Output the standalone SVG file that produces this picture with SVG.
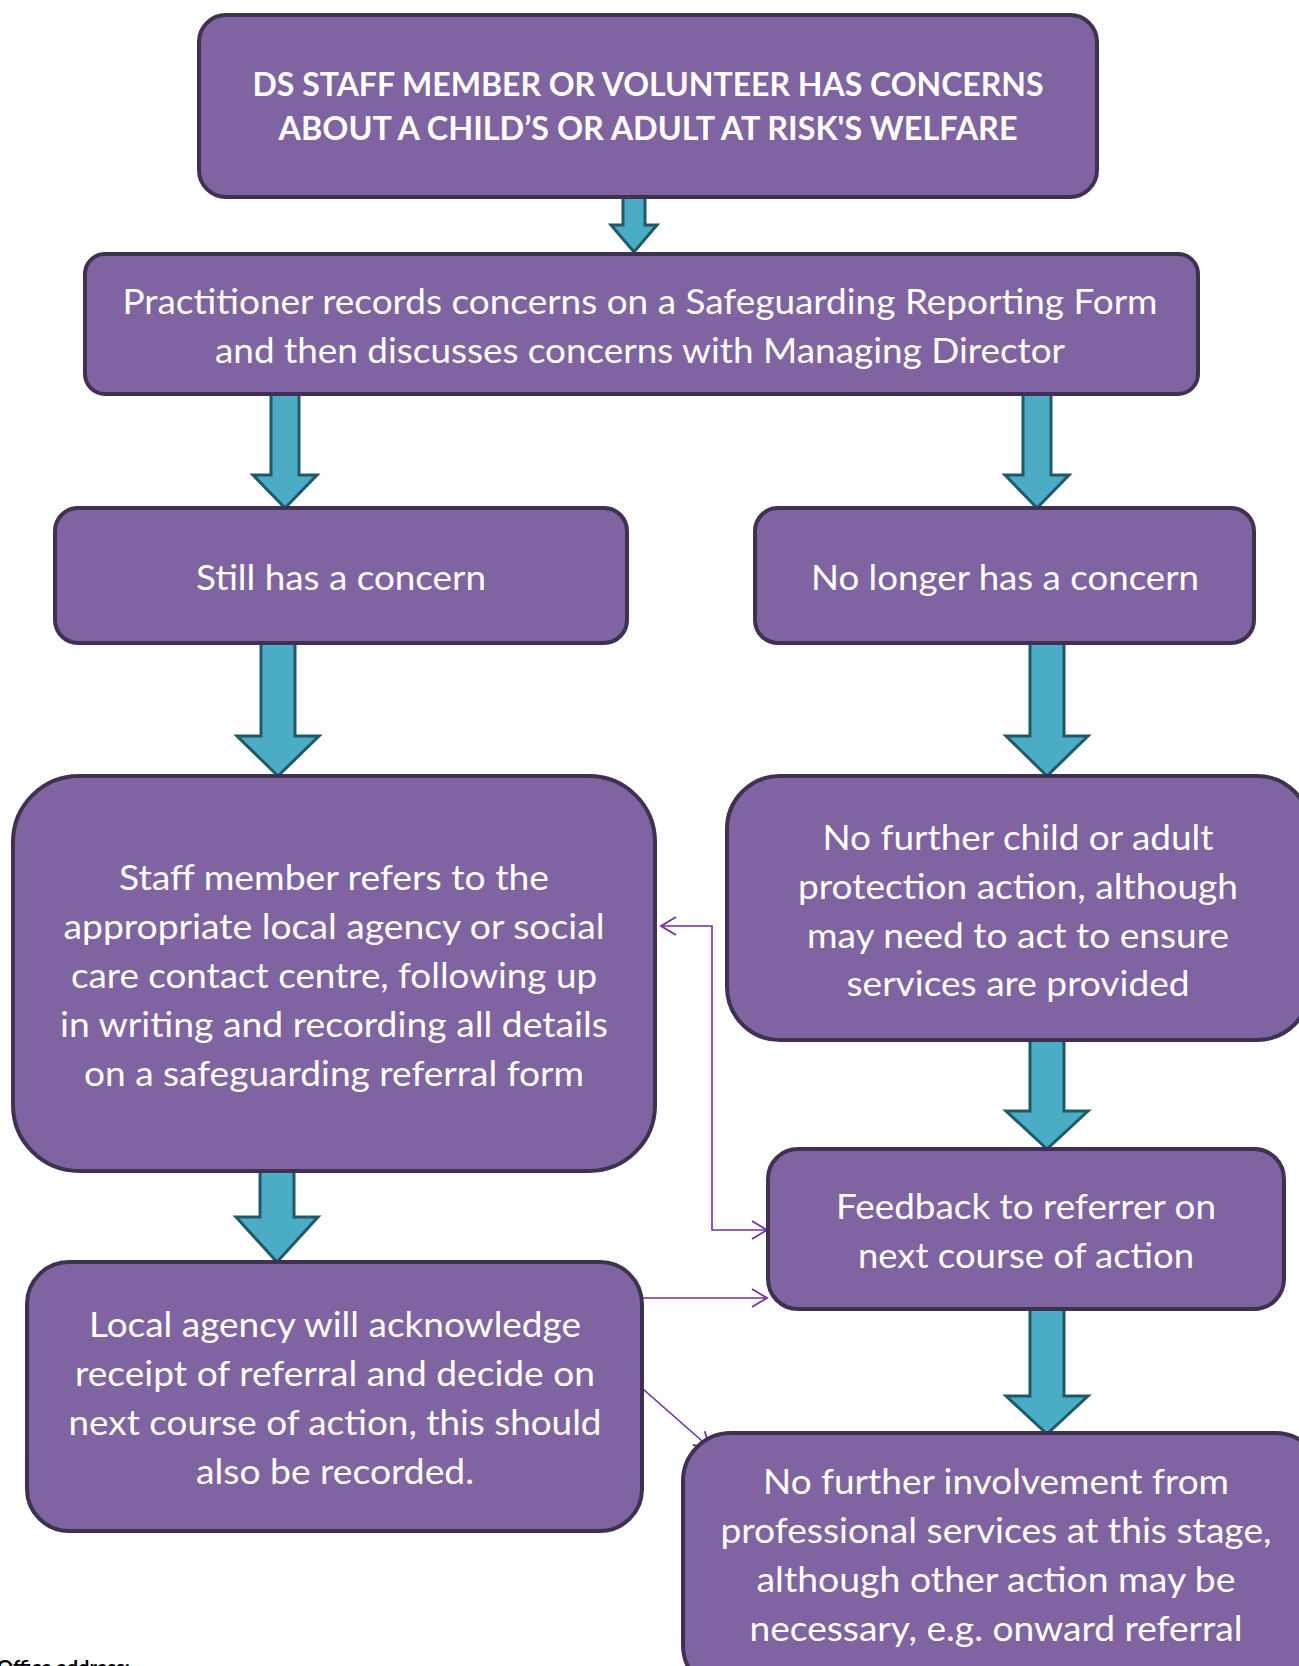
<svg xmlns="http://www.w3.org/2000/svg" width="1299" height="1666" viewBox="0 0 1299 1666">
<style>
.box{fill:#8064A2;stroke:#3F3151;stroke-width:4}
.arr{fill:#4BACC6;stroke:#215968;stroke-width:3;stroke-linejoin:miter}
.t{font-family:Lato,"Open Sans","Liberation Sans",sans-serif;font-size:35px;fill:#ffffff;text-anchor:middle}
.tb{font-family:Lato,"Open Sans","Liberation Sans",sans-serif;font-size:32px;font-weight:bold;fill:#ffffff;text-anchor:middle}
.ln{fill:none;stroke:#7030A0;stroke-width:1.6}
</style>
<defs>
<marker id="oa" markerUnits="userSpaceOnUse" markerWidth="20" markerHeight="24" refX="16" refY="10" viewBox="0 0 20 20" orient="auto-start-reverse">
<path d="M1,1 L16,10 L1,19" fill="none" stroke="#7030A0" stroke-width="1.8"/>
</marker>
</defs>
<rect width="1299" height="1666" fill="#ffffff"/>
<g id="connectors">
<path class="arr" d="M623,197 H645 V225 H657 L634,252 L611,225 H623 Z"/>
<path class="arr" d="M271,394 H299 V475 H317 L285,508 L253,475 H271 Z"/>
<path class="arr" d="M1023,394 H1051 V475 H1069 L1037,508 L1005,475 H1023 Z"/>
<path class="arr" d="M261,643 H295 V736 H319 L278,776 L237,736 H261 Z"/>
<path class="arr" d="M1030,643 H1064 V736 H1088 L1047,776 L1006,736 H1030 Z"/>
<path class="arr" d="M1030,1040 H1064 V1111 H1088 L1047,1149 L1006,1111 H1030 Z"/>
<path class="arr" d="M1030,1309 H1064 V1396 H1088 L1047,1434 L1006,1396 H1030 Z"/>
<path class="arr" d="M260,1171 H294 V1217 H318 L277,1262 L236,1217 H260 Z"/>
<path class="ln" d="M767,1230 H712 V926 H661" marker-start="url(#oa)" marker-end="url(#oa)"/>
<path class="ln" d="M642,1298 H767" marker-end="url(#oa)"/>
<path class="ln" d="M643,1389 L710,1448" marker-end="url(#oa)"/>
</g>
<g id="node-start">
<rect class="box" x="199" y="15" width="898" height="182" rx="27"/>
<text class="tb" x="648" y="96" textLength="791" lengthAdjust="spacingAndGlyphs">DS STAFF MEMBER OR VOLUNTEER HAS CONCERNS</text>
<text class="tb" x="648" y="140" textLength="739" lengthAdjust="spacingAndGlyphs">ABOUT A CHILD’S OR ADULT AT RISK'S WELFARE</text>
</g>
<g id="node-record">
<rect class="box" x="85" y="254" width="1113" height="140" rx="20"/>
<text class="t" x="640" y="314" textLength="1035" lengthAdjust="spacingAndGlyphs">Practitioner records concerns on a Safeguarding Reporting Form</text>
<text class="t" x="640" y="363" textLength="850" lengthAdjust="spacingAndGlyphs">and then discusses concerns with Managing Director</text>
</g>
<g id="node-still">
<rect class="box" x="55" y="508" width="572" height="135" rx="23"/>
<text class="t" x="341" y="590" textLength="290" lengthAdjust="spacingAndGlyphs">Still has a concern</text>
</g>
<g id="node-nolonger">
<rect class="box" x="755" y="508" width="499" height="135" rx="23"/>
<text class="t" x="1005" y="590" textLength="388" lengthAdjust="spacingAndGlyphs">No longer has a concern</text>
</g>
<g id="node-refer">
<rect class="box" x="13" y="776" width="642" height="395" rx="66"/>
<text class="t" x="334" y="890" textLength="430" lengthAdjust="spacingAndGlyphs">Staff member refers to the</text>
<text class="t" x="334" y="939" textLength="541" lengthAdjust="spacingAndGlyphs">appropriate local agency or social</text>
<text class="t" x="334" y="988" textLength="526" lengthAdjust="spacingAndGlyphs">care contact centre, following up</text>
<text class="t" x="334" y="1037" textLength="548" lengthAdjust="spacingAndGlyphs">in writing and recording all details</text>
<text class="t" x="334" y="1086" textLength="500" lengthAdjust="spacingAndGlyphs">on a safeguarding referral form</text>
</g>
<g id="node-nofurther">
<rect class="box" x="727" y="776" width="583" height="264" rx="53"/>
<text class="t" x="1018" y="850" textLength="391" lengthAdjust="spacingAndGlyphs">No further child or adult</text>
<text class="t" x="1018" y="899" textLength="440" lengthAdjust="spacingAndGlyphs">protection action, although</text>
<text class="t" x="1018" y="948" textLength="422" lengthAdjust="spacingAndGlyphs">may need to act to ensure</text>
<text class="t" x="1018" y="996" textLength="343" lengthAdjust="spacingAndGlyphs">services are provided</text>
</g>
<g id="node-feedback">
<rect class="box" x="768" y="1149" width="516" height="160" rx="30"/>
<text class="t" x="1026" y="1219" textLength="380" lengthAdjust="spacingAndGlyphs">Feedback to referrer on</text>
<text class="t" x="1026" y="1268" textLength="336" lengthAdjust="spacingAndGlyphs">next course of action</text>
</g>
<g id="node-local">
<rect class="box" x="27" y="1262" width="615" height="269" rx="42"/>
<text class="t" x="335" y="1337" textLength="492" lengthAdjust="spacingAndGlyphs">Local agency will acknowledge</text>
<text class="t" x="335" y="1386" textLength="520" lengthAdjust="spacingAndGlyphs">receipt of referral and decide on</text>
<text class="t" x="335" y="1435" textLength="533" lengthAdjust="spacingAndGlyphs">next course of action, this should</text>
<text class="t" x="335" y="1484" textLength="278" lengthAdjust="spacingAndGlyphs">also be recorded.</text>
</g>
<g id="node-noinvolvement">
<rect class="box" x="683" y="1433" width="640" height="260" rx="48"/>
<text class="t" x="996" y="1494" textLength="466" lengthAdjust="spacingAndGlyphs">No further involvement from</text>
<text class="t" x="996" y="1543" textLength="551" lengthAdjust="spacingAndGlyphs">professional services at this stage,</text>
<text class="t" x="996" y="1592" textLength="479" lengthAdjust="spacingAndGlyphs">although other action may be</text>
<text class="t" x="996" y="1641" textLength="493" lengthAdjust="spacingAndGlyphs">necessary, e.g. onward referral</text>
</g>
<text x="-3" y="1674" font-family="Lato,'Open Sans',sans-serif" font-size="19" font-weight="bold" fill="#000000" textLength="133" lengthAdjust="spacingAndGlyphs">Office address:</text>
</svg>
